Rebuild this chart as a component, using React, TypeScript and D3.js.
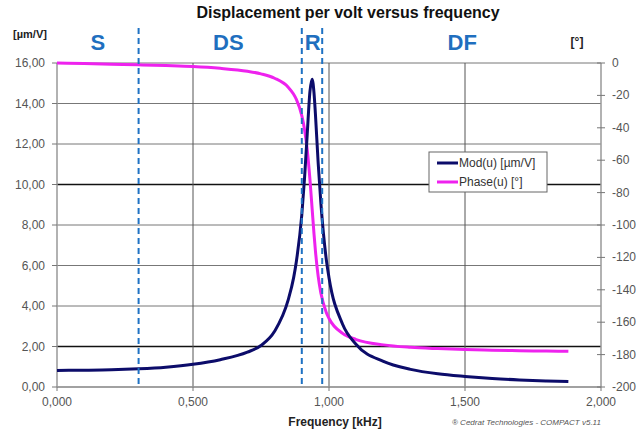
import React from 'react';
import * as d3 from 'd3';

// frequency in kHz
const freq = [0, 0.1, 0.2, 0.3, 0.4, 0.5, 0.6, 0.7, 0.75, 0.8, 0.85, 0.87, 0.88, 0.9, 0.91, 0.92, 0.93, 0.938, 0.945, 0.95, 0.96, 0.97, 0.99, 1.0, 1.05, 1.1, 1.2, 1.3, 1.4, 1.5, 1.6, 1.7, 1.8, 1.88];
// Mod(u) [µm/V]
const modU = [0.82, 0.83, 0.85, 0.9, 0.98, 1.12, 1.35, 1.72, 2.05, 2.75, 4.3, 5.4, 6.2, 8.5, 10.3, 12.5, 14.6, 15.2, 14.5, 13.5, 11.1, 9.1, 6.3, 5.4, 3.1, 2.1, 1.26, 0.87, 0.65, 0.52, 0.42, 0.35, 0.3, 0.27];
// Phase(u) [°]
const phaseU = [0, -0.3, -0.7, -1.1, -1.6, -2.2, -3.3, -5.1, -6.7, -9.4, -14.9, -19.3, -22.4, -32.5, -41, -53.6, -72, -90, -105.8, -115.8, -131.4, -141.9, -154, -157.7, -166.9, -170.7, -174, -175.5, -176.3, -176.9, -177.3, -177.6, -177.8, -178];

const xTicks = [0, 0.5, 1, 1.5, 2];
const xTickLabels = ['0,000', '0,500', '1,000', '1,500', '2,000'];
const yTicks = [0, 2, 4, 6, 8, 10, 12, 14, 16];
const yTickLabels = ['0,00', '2,00', '4,00', '6,00', '8,00', '10,00', '12,00', '14,00', '16,00'];
const y2Ticks = [0, -20, -40, -60, -80, -100, -120, -140, -160, -180, -200];

// region boundaries (kHz) and names
const zoneBounds = [0.3, 0.9, 0.975];
const zoneNames = ['S', 'DS', 'R', 'DF'];
const zoneCenters = [0.15, 0.63, 0.94, 1.49];

const W = 642;
const H = 432;
const left = 57;
const right = 601;
const top = 63;
const bottom = 387;

export default function App() {
  const x = d3.scaleLinear().domain([0, 2]).range([left, right]);
  const y = d3.scaleLinear().domain([0, 16]).range([bottom, top]);
  const y2 = d3.scaleLinear().domain([-200, 0]).range([bottom, top]);

  const modLine = d3
    .line<number>()
    .x((d, i) => x(freq[i]))
    .y((d) => y(d))
    .curve(d3.curveMonotoneX);
  const phaseLine = d3
    .line<number>()
    .x((d, i) => x(freq[i]))
    .y((d) => y2(d))
    .curve(d3.curveMonotoneX);

  const font = 'Liberation Sans, Arial, sans-serif';

  return (
    <svg
      width={W}
      height={H}
      style={{ position: 'absolute', left: 0, top: 0, background: '#fff' }}
      fontFamily={font}
    >
      <text x={348} y={18} textAnchor="middle" fontSize={16} fontWeight="bold" fill="#111">
        Displacement per volt versus frequency
      </text>

      {/* horizontal grid */}
      {yTicks.map((t) => (
        <line
          key={'g' + t}
          x1={left}
          x2={right}
          y1={y(t)}
          y2={y(t)}
          stroke={t === 10 || t === 2 ? '#111' : '#777'}
          strokeWidth={t === 10 || t === 2 ? 1.3 : 1}
        />
      ))}
      {/* vertical grid */}
      {xTicks.slice(1, -1).map((t) => (
        <line key={'v' + t} x1={x(t)} x2={x(t)} y1={top} y2={bottom} stroke="#555" strokeWidth={1} />
      ))}

      {/* axes */}
      <line x1={left} x2={left} y1={top} y2={bottom} stroke="#999" strokeWidth={1.5} />
      <line x1={right} x2={right} y1={top} y2={bottom} stroke="#999" strokeWidth={1.5} />
      <line x1={left} x2={right} y1={bottom} y2={bottom} stroke="#999" strokeWidth={1.5} />

      {yTicks.map((t, i) => (
        <g key={'yt' + t}>
          <line x1={left - 5} x2={left} y1={y(t)} y2={y(t)} stroke="#777" />
          <text x={45} y={y(t) + 4} textAnchor="end" fontSize={12} fill="#555">
            {yTickLabels[i]}
          </text>
        </g>
      ))}
      {y2Ticks.map((t) => (
        <g key={'y2' + t}>
          <line x1={right - 4} x2={right + 4} y1={y2(t)} y2={y2(t)} stroke="#777" />
          <text x={612} y={y2(t) + 4} textAnchor="start" fontSize={12} fill="#555">
            {t}
          </text>
        </g>
      ))}
      {xTicks.map((t, i) => (
        <g key={'xt' + t}>
          <line x1={x(t)} x2={x(t)} y1={bottom} y2={bottom + 4} stroke="#777" />
          <text x={x(t)} y={406} textAnchor="middle" fontSize={12} fill="#555">
            {xTickLabels[i]}
          </text>
        </g>
      ))}

      <text x={30} y={38} textAnchor="middle" fontSize={11} fontWeight="bold" fill="#222">
        [µm/V]
      </text>
      <text x={577} y={46} textAnchor="middle" fontSize={12} fontWeight="bold" fill="#222">
        [°]
      </text>
      <text x={335} y={426} textAnchor="middle" fontSize={12} fontWeight="bold" fill="#222">
        Frequency [kHz]
      </text>
      <text x={452} y={425} fontSize={8} fontStyle="italic" fill="#555">
        ® Cedrat Technologies - COMPACT v5.11
      </text>

      {/* curves */}
      <path d={phaseLine(phaseU) || ''} fill="none" stroke="#ee22ee" strokeWidth={3} />
      <path d={modLine(modU) || ''} fill="none" stroke="#0c0c6a" strokeWidth={3} />

      {/* zone dividers */}
      {zoneBounds.map((b) => (
        <line
          key={'z' + b}
          x1={x(b)}
          x2={x(b)}
          y1={28}
          y2={bottom}
          stroke="#1f72c4"
          strokeWidth={2}
          strokeDasharray="6,4"
        />
      ))}
      {zoneNames.map((n, i) => (
        <text
          key={n}
          x={x(zoneCenters[i])}
          y={50}
          textAnchor="middle"
          fontSize={22}
          fontWeight="bold"
          fill="#1f6fbf"
          fontFamily="Liberation Sans Narrow, Arial Narrow, sans-serif"
        >
          {n}
        </text>
      ))}

      {/* legend */}
      <rect x={429} y={152} width={118} height={40} fill="#fff" stroke="#666" />
      <line x1={437} x2={458} y1={163} y2={163} stroke="#0c0c6a" strokeWidth={3} />
      <text x={459} y={167} fontSize={12} fill="#333">
        Mod(u) [µm/V]
      </text>
      <line x1={437} x2={458} y1={182} y2={182} stroke="#ee22ee" strokeWidth={3} />
      <text x={459} y={186} fontSize={12} fill="#333">
        Phase(u) [°]
      </text>
    </svg>
  );
}
